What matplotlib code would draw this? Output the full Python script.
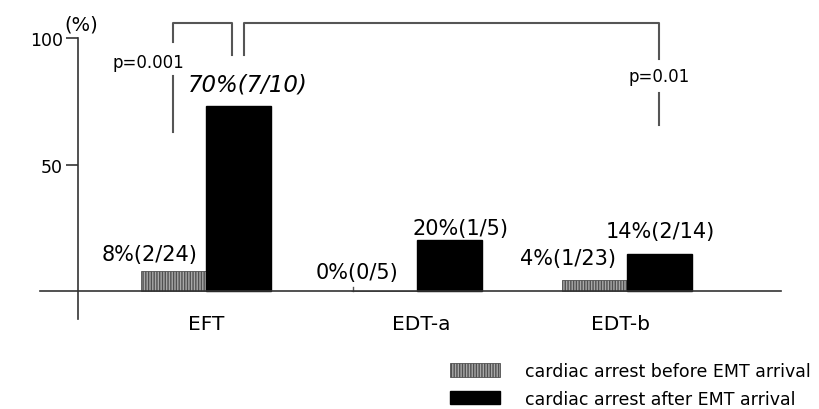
import numpy as np
import matplotlib.pyplot as plt
from matplotlib.patches import Patch

groups = ['EFT', 'EDT-a', 'EDT-b']
before = [8, 0, 4.5]
after = [73, 20, 14.5]
before_labels = ['8%(2/24)', '0%(0/5)', '4%(1/23)']
after_labels = ['70%(7/10)', '20%(1/5)', '14%(2/14)']
legend_labels = ['cardiac arrest before EMT arrival', 'cardiac arrest after EMT arrival']

plt.rcParams['font.family'] = ['DejaVu Sans']
plt.rcParams['font.size'] = 12

fig = plt.figure(figsize=(8.19, 4.10), dpi=100)
ax = fig.add_axes([0, 0, 1, 1])
ax.set_xlim(-0.979, 2.912)
ax.set_ylim(-46.6, 115.4)

x = np.arange(len(groups))
w = 0.31
ax.bar(x - w / 2, before, w, color='#a8a8a8', edgecolor='#505050',
       hatch='||||||', linewidth=0.6)
ax.bar(x + w / 2, after, w, color='black', edgecolor='black')

# spines as in the original: y axis runs below 0, baseline runs left of y axis
for s in ['top', 'right']:
    ax.spines[s].set_visible(False)
ax.spines['left'].set_position(('data', -0.608))
ax.spines['left'].set_bounds(-11, 100)
ax.spines['bottom'].set_position(('data', 0))
ax.spines['bottom'].set_bounds(-0.79, 2.73)
for s in ['left', 'bottom']:
    ax.spines[s].set_color('#333333')
    ax.spines[s].set_linewidth(1.2)
ax.set_yticks([50, 100])
ax.set_yticklabels(['50', '100'])
ax.tick_params(axis='y', length=9, width=1.2, color='#333333', pad=2, labelsize=12.5)
ax.set_xticks([])
ax.text(-0.594, 105.5, '(%)', ha='center', va='center', fontsize=14)

for xi, g in zip([0, 1.02, 1.97], groups):
    ax.text(xi, -13, g, ha='center', va='center', fontsize=14.5)

# value labels
ax.text(-0.27, 14.6, before_labels[0], ha='center', va='center', fontsize=15)
ax.text(0.20, 82, after_labels[0], ha='center', va='center',
        style='italic', fontsize=16.5)
ax.text(0.717, 7.5, before_labels[1], ha='center', va='center', fontsize=15)
ax.text(1.207, 24.8, after_labels[1], ha='center', va='center', fontsize=15)
ax.text(1.72, 13.2, before_labels[2], ha='center', va='center', fontsize=15)
ax.text(2.16, 23.6, after_labels[2], ha='center', va='center', fontsize=15)
ax.plot([0.70, 0.70], [0, 1.5], color='#555555', lw=1)

# significance brackets
lc = '#555555'
ax.plot([-0.157, -0.157, 0.124, 0.124], [98.4, 105.9, 105.9, 93.3], color=lc, lw=1.5)
ax.plot([-0.157, -0.157], [85, 62.8], color=lc, lw=1.5)
ax.text(-0.276, 90.5, 'p=0.001', ha='center', va='center', fontsize=12)
ax.plot([0.18, 0.18, 2.152, 2.152], [93.3, 105.9, 105.9, 91.7], color=lc, lw=1.5)
ax.plot([2.152, 2.152], [78.3, 65.6], color=lc, lw=1.5)
ax.text(2.152, 85, 'p=0.01', ha='center', va='center', fontsize=12)

handles = [Patch(facecolor='#a8a8a8', edgecolor='#505050', hatch='||||||', linewidth=0.6),
           Patch(facecolor='black', edgecolor='black')]
fig.legend(handles, legend_labels, loc='upper left',
           bbox_to_anchor=(450 / 819, 1 - 363 / 410),
           frameon=False, fontsize=12.5, handlelength=2.9, handleheight=0.85,
           handletextpad=1.4, labelspacing=0.55, borderpad=0, borderaxespad=0)

fig.savefig('out.png', dpi=100)
